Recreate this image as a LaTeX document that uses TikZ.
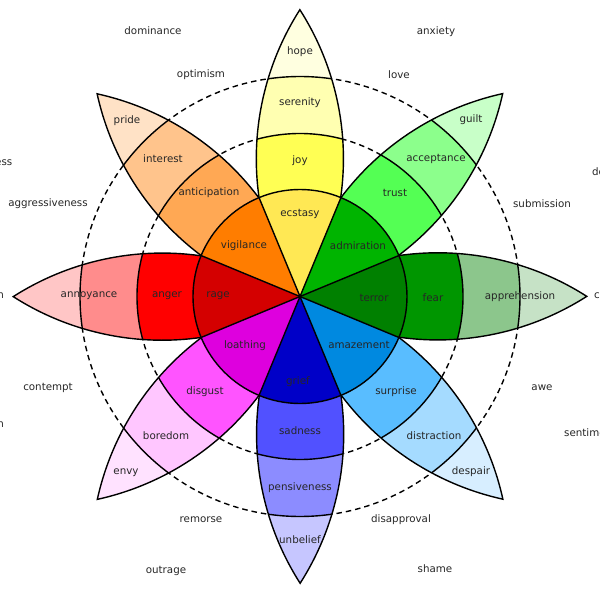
\documentclass[tikz,border=0pt]{standalone}
\usepackage{fontspec}
\setmainfont{DejaVu Sans}
\usepackage{xcolor}
\begin{document}
\begin{tikzpicture}[x=1pt,y=1pt,
  emo/.style={font=\fontsize{10.3}{12}\selectfont,text=black!85,inner sep=0pt},
  ring/.style={line width=1.4pt},
  guide/.style={line width=1.4pt,dash pattern=on 5.5pt off 4pt}]
\useasboundingbox (-300,-303.5) rectangle (300,296.5);
\definecolor{ecstasy}{HTML}{FFE854}
\definecolor{joy}{HTML}{FFFF54}
\definecolor{serenity}{HTML}{FFFFB1}
\definecolor{hope}{HTML}{FFFFE0}
\definecolor{admiration}{HTML}{00B400}
\definecolor{trust}{HTML}{54FF54}
\definecolor{acceptance}{HTML}{8CFF8C}
\definecolor{guilt}{HTML}{C8FFC8}
\definecolor{terror}{HTML}{008000}
\definecolor{fear}{HTML}{009600}
\definecolor{apprehension}{HTML}{8CC68C}
\definecolor{tipgreen}{HTML}{C6E2C6}
\definecolor{amazement}{HTML}{0089E0}
\definecolor{surprise}{HTML}{59BDFF}
\definecolor{distraction}{HTML}{A5DBFF}
\definecolor{despair}{HTML}{D7EEFF}
\definecolor{grief}{HTML}{0000C8}
\definecolor{sadness}{HTML}{5151FF}
\definecolor{pensiveness}{HTML}{8C8CFF}
\definecolor{unbelief}{HTML}{C6C6FF}
\definecolor{loathing}{HTML}{DE00DE}
\definecolor{disgust}{HTML}{FF54FF}
\definecolor{boredom}{HTML}{FFC6FF}
\definecolor{envy}{HTML}{FFE2FF}
\definecolor{rage}{HTML}{D40000}
\definecolor{anger}{HTML}{FF0000}
\definecolor{annoyance}{HTML}{FF8C8C}
\definecolor{tipred}{HTML}{FFC6C6}
\definecolor{vigilance}{HTML}{FF7D00}
\definecolor{anticipation}{HTML}{FFA854}
\definecolor{interest}{HTML}{FFC48C}
\definecolor{pride}{HTML}{FFE2C6}
\draw[guide] (0,0) circle (163);
\draw[guide] (0,0) circle (220);
\foreach \ang/\core/\band/\rim/\tip in {90/ecstasy/joy/serenity/hope,45/admiration/trust/acceptance/guilt,
  0/terror/fear/apprehension/tipgreen,-45/amazement/surprise/distraction/despair,
  -90/grief/sadness/pensiveness/unbelief,-135/loathing/disgust/boredom/envy,
  180/rage/anger/annoyance/tipred,135/vigilance/anticipation/interest/pride}
{ \begin{scope}[rotate=\ang]
    \begin{scope}
      \clip (0,0) -- (22.5:107) arc[start angle=98.1,end angle=57.4,radius=276.5]
        arc[start angle=-57.4,end angle=-98.1,radius=276.5] -- cycle;
      \fill[\tip] (0,0) circle (290);
      \fill[\rim] (0,0) circle (220);
      \fill[\band] (0,0) circle (163);
      \draw[ring] (0,0) circle (163) (0,0) circle (220);
    \end{scope}
    \draw[ring] (22.5:107) arc[start angle=98.1,end angle=57.4,radius=276.5]
      arc[start angle=-57.4,end angle=-98.1,radius=276.5];
    \fill[\core] (0,0) -- (-22.5:107) arc[start angle=-22.5,end angle=22.5,radius=107] -- cycle;
  \end{scope}}
\draw[ring] (0,0) circle (107);
\foreach \spoke in {22.5,67.5,...,337.5}
  {\draw[ring] (0,0) -- (\spoke:107);}
% labels
\node[emo] (dominance) at (-147,265.5) {dominance};
\node[emo] (anxiety) at (136,264.5) {anxiety};
\node[emo] (optimism) at (-99,221.5) {optimism};
\node[emo] (love) at (99,221.5) {love};
\node[emo] (pride) at (-173,175.5) {pride};
\node[emo] (guilt) at (171,176.5) {guilt};
\node[emo] (interest) at (-137,137.5) {interest};
\node[emo] (acceptance) at (136,137.5) {acceptance};
\node[emo] (anticipation) at (-91,103.5) {anticipation};
\node[emo] (trust) at (95,103.5) {trust};
\node[emo] (aggressiveness) at (-252,92.5) {aggressiveness};
\node[emo] (submission) at (242,92.5) {submission};
\node[emo] (hope) at (0,244.5) {hope};
\node[emo] (serenity) at (0,193.5) {serenity};
\node[emo] (joy) at (0,135.5) {joy};
\node[emo] (ecstasy) at (0,82.5) {ecstasy};
\node[emo] (vigilance) at (-56,50.5) {vigilance};
\node[emo] (admiration) at (58,50.5) {admiration};
\node[emo] (rage) at (-82,0.5) {rage};
\node[emo] (terror) at (74,-1.5) {terror};
\node[emo] (anger) at (-133,0.5) {anger};
\node[emo] (fear) at (133,-1.5) {fear};
\node[emo] (annoyance) at (-211,0.5) {annoyance};
\node[emo] (apprehension) at (220,-0.5) {apprehension};
\node[emo] (loathing) at (-55,-49.5) {loathing};
\node[emo] (amazement) at (59,-48.5) {amazement};
\node[emo] (contempt) at (-252,-91.5) {contempt};
\node[emo] (awe) at (242,-91.5) {awe};
\node[emo] (disgust) at (-95,-95.5) {disgust};
\node[emo] (surprise) at (96,-95.5) {surprise};
\node[emo] (boredom) at (-134,-139.5) {boredom};
\node[emo] (distraction) at (134,-139.5) {distraction};
\node[emo] (grief) at (-2,-85.5) {grief};
\node[emo] (sadness) at (0,-134.5) {sadness};
\node[emo] (pensiveness) at (0,-191.5) {pensiveness};
\node[emo] (unbelief) at (0,-243.5) {unbelief};
\node[emo] (envy) at (-174,-176.5) {envy};
\node[emo] (despair) at (171,-175.5) {despair};
\node[emo] (remorse) at (-99,-223.5) {remorse};
\node[emo] (disapproval) at (101,-223.5) {disapproval};
\node[emo] (outrage) at (-134,-274.5) {outrage};
\node[emo] (shame) at (135,-272.5) {shame};
% cut at the edges
\node[emo,anchor=east] (ess) at (-287.5,133.5) {ess};
\node[emo,anchor=east] (leftn) at (-296,0.5) {n};
\node[emo,anchor=east] (lown) at (-296,-128.5) {n};
\node[emo,anchor=west] (de) at (292,124.5) {de};
\node[emo,anchor=west] (rightc) at (294,0.5) {c};
\node[emo,anchor=west] (sentime) at (264,-136.5) {sentime};
\end{tikzpicture}
\end{document}
